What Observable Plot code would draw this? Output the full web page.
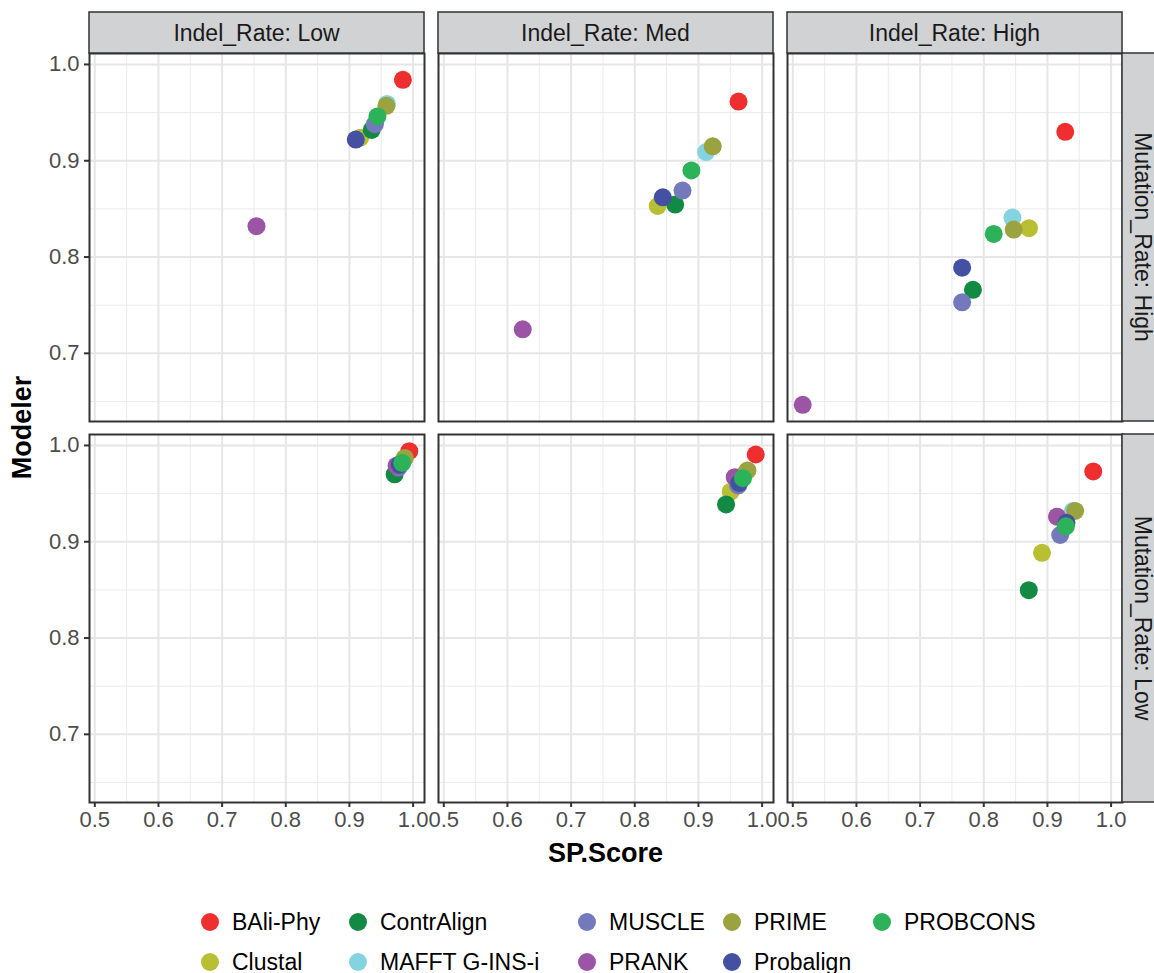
<!DOCTYPE html>
<html>
<head>
<meta charset="utf-8">
<script src="https://cdn.jsdelivr.net/npm/d3@7"></script>
<script src="https://cdn.jsdelivr.net/npm/@observablehq/plot@0.6"></script>
<style>
  body { margin: 0; background: #fff; font-family: "Liberation Sans", Arial, Helvetica, sans-serif; }
  #legend { display: grid; grid-template-rows: 40px 40px; grid-auto-flow: column;
            grid-template-columns: 148px 229px 145px 150px 170px; padding-left: 201px; margin-top: 22px; }
  .item { display: flex; align-items: center; font-size: 23px; color: #000; white-space: nowrap; }
  .sw { width: 18px; height: 18px; border-radius: 50%; margin-right: 13px; flex: none; }
</style>
</head>
<body>
<div id="chart"></div>
<div id="legend"></div>
<script>
// ---- categories ----
const algorithms = ["BAli-Phy", "Clustal", "ContrAlign", "MAFFT G-INS-i", "MUSCLE", "PRANK", "PRIME", "Probalign", "PROBCONS"];
const algColors = ["#EE2E2F", "#B8BF32", "#138A43", "#83D3E1", "#7479BC", "#9C55A4", "#9AA33F", "#4450A1", "#2CB35A"];
const indelLevels = ["Low", "Med", "High"];
const mutationLevels = ["High", "Low"];

// ---- tick labels ----
const xTicks = [0.5, 0.6, 0.7, 0.8, 0.9, 1.0];
const xMinor = [0.55, 0.65, 0.75, 0.85, 0.95];
const yTicks = [0.7, 0.8, 0.9, 1.0];
const yMinor = [0.65, 0.75, 0.85, 0.95];

// ---- series values (SP.Score, Modeler) per panel, in algorithm order ----
// Mutation_Rate: High
const spLowHigh  = [0.984, 0.917, 0.935, 0.959, 0.940, 0.754, 0.958, 0.910, 0.944];
const modLowHigh = [0.984, 0.924, 0.932, 0.959, 0.938, 0.832, 0.957, 0.922, 0.946];
const spMedHigh  = [0.963, 0.836, 0.8635, 0.912, 0.875, 0.624, 0.9225, 0.844, 0.889];
const modMedHigh = [0.9615, 0.853, 0.8545, 0.909, 0.869, 0.725, 0.915, 0.862, 0.890];
const spHighHigh  = [0.928, 0.871, 0.783, 0.845, 0.766, 0.5156, 0.847, 0.766, 0.8156];
const modHighHigh = [0.930, 0.830, 0.766, 0.841, 0.753, 0.6466, 0.8285, 0.789, 0.824];
// Mutation_Rate: Low
const spLowLow  = [0.994, 0.984, 0.971, 0.986, 0.977, 0.974, 0.987, 0.979, 0.983];
const modLowLow = [0.994, 0.984, 0.970, 0.986, 0.977, 0.979, 0.987, 0.980, 0.982];
const spMedLow  = [0.990, 0.9507, 0.9434, 0.972, 0.9625, 0.957, 0.977, 0.964, 0.970];
const modMedLow = [0.9906, 0.952, 0.9387, 0.970, 0.9585, 0.967, 0.974, 0.961, 0.966];
const spHighLow  = [0.972, 0.8915, 0.8707, 0.940, 0.920, 0.915, 0.9435, 0.930, 0.929];
const modHighLow = [0.973, 0.8885, 0.8497, 0.932, 0.907, 0.926, 0.932, 0.9196, 0.916];

const panels = [
  ["Low", "High", spLowHigh, modLowHigh],
  ["Med", "High", spMedHigh, modMedHigh],
  ["High", "High", spHighHigh, modHighHigh],
  ["Low", "Low", spLowLow, modLowLow],
  ["Med", "Low", spMedLow, modMedLow],
  ["High", "Low", spHighLow, modHighLow]
];
const rows = [];
for (const [indel, mutation, sp, mod] of panels) {
  algorithms.forEach((a, i) => rows.push({indel, mutation, alg: a, sp: sp[i], mod: mod[i]}));
}
// ggplot-like 5% expansion of the data range
function expand(vals) { const [a, b] = d3.extent(vals); const p = (b - a) * 0.05; return [a - p, b + p]; }
const xDom = expand(rows.map(d => d.sp));
const yDom = expand(rows.map(d => d.mod));

const W = 1154, H = 880;
const panelLeft = 89, panelRight = 1122, panelTop = 53, panelBottom = 802;
const fontStack = "Liberation Sans, Arial, Helvetica, sans-serif";

const plot = Plot.plot({
  width: W, height: H,
  marginLeft: panelLeft, marginRight: W - panelRight, marginTop: panelTop, marginBottom: H - panelBottom,
  style: {fontFamily: fontStack, fontSize: "22px", background: "#fff", overflow: "visible"},
  fx: {domain: indelLevels, paddingInner: 14 / 349, paddingOuter: 0, round: false, axis: null, label: null},
  fy: {domain: mutationLevels, paddingInner: 13 / 381, paddingOuter: 0, round: false, axis: null, label: null},
  x: {domain: xDom, inset: 0, label: null},
  y: {domain: yDom, inset: 0, label: null},
  color: {domain: algorithms, range: algColors},
  marks: [
    Plot.gridX({ticks: xMinor, stroke: "#ebebeb", strokeOpacity: 1, strokeWidth: 1}),
    Plot.gridY({ticks: yMinor, stroke: "#ebebeb", strokeOpacity: 1, strokeWidth: 1}),
    Plot.gridX({ticks: xTicks, stroke: "#e6e6e6", strokeOpacity: 1, strokeWidth: 2}),
    Plot.gridY({ticks: yTicks, stroke: "#e6e6e6", strokeOpacity: 1, strokeWidth: 2}),
    Plot.dot(rows, {x: "sp", y: "mod", fx: "indel", fy: "mutation", fill: "alg", r: 9}),
    Plot.frame({stroke: "#333333", strokeWidth: 2}),
    Plot.axisX({ticks: xTicks, tickSize: 5, tickPadding: 4, tickFormat: d3.format(".1f"), label: null,
                facetAnchor: "bottom", stroke: "#333333", color: "#4d4d4d", strokeWidth: 2, fontSize: 22}),
    Plot.axisY({ticks: yTicks, tickSize: 5, tickPadding: 5, tickFormat: d3.format(".1f"), label: null,
                facetAnchor: "left", stroke: "#333333", color: "#4d4d4d", strokeWidth: 2, fontSize: 22})
  ]
});

// strips and axis titles placed from the library's facet scales
const svg = d3.select(plot);
const fx = plot.scale("fx"), fy = plot.scale("fy");
const g = svg.append("g");
const stripH = 41;
for (const d of indelLevels) {
  const x0 = fx.apply(d);
  g.append("rect").attr("x", x0).attr("y", panelTop - stripH).attr("width", fx.bandwidth).attr("height", stripH)
    .attr("fill", "#d1d2d4").attr("stroke", "#333333").attr("stroke-width", 1.5);
  g.append("text").attr("x", x0 + fx.bandwidth / 2).attr("y", panelTop - stripH / 2)
    .attr("text-anchor", "middle").attr("dominant-baseline", "central")
    .attr("font-size", 23).attr("fill", "#1a1a1a").text("Indel_Rate: " + d);
}
for (const d of mutationLevels) {
  const y0 = fy.apply(d);
  g.append("rect").attr("x", panelRight).attr("y", y0).attr("width", stripH).attr("height", fy.bandwidth)
    .attr("fill", "#d1d2d4").attr("stroke", "#333333").attr("stroke-width", 1.5);
  g.append("text").attr("transform", `translate(${panelRight + stripH / 2},${y0 + fy.bandwidth / 2}) rotate(90)`)
    .attr("text-anchor", "middle").attr("dominant-baseline", "central")
    .attr("font-size", 23).attr("fill", "#1a1a1a").text("Mutation_Rate: " + d);
}
g.append("text").attr("x", (panelLeft + panelRight) / 2).attr("y", 853)
  .attr("text-anchor", "middle").attr("dominant-baseline", "central")
  .attr("font-size", 27).attr("font-weight", "bold").attr("fill", "#000").text("SP.Score");
g.append("text").attr("transform", `translate(22,${(panelTop + panelBottom) / 2}) rotate(-90)`)
  .attr("text-anchor", "middle").attr("dominant-baseline", "central")
  .attr("font-size", 27).attr("font-weight", "bold").attr("fill", "#000").text("Modeler");

document.getElementById("chart").appendChild(plot);

// legend (2 rows, filled column-wise like ggplot)
const legend = d3.select("#legend");
algorithms.forEach((a, i) => {
  const it = legend.append("div").attr("class", "item");
  it.append("span").attr("class", "sw").style("background", algColors[i]);
  it.append("span").text(a);
});
</script>
</body>
</html>
